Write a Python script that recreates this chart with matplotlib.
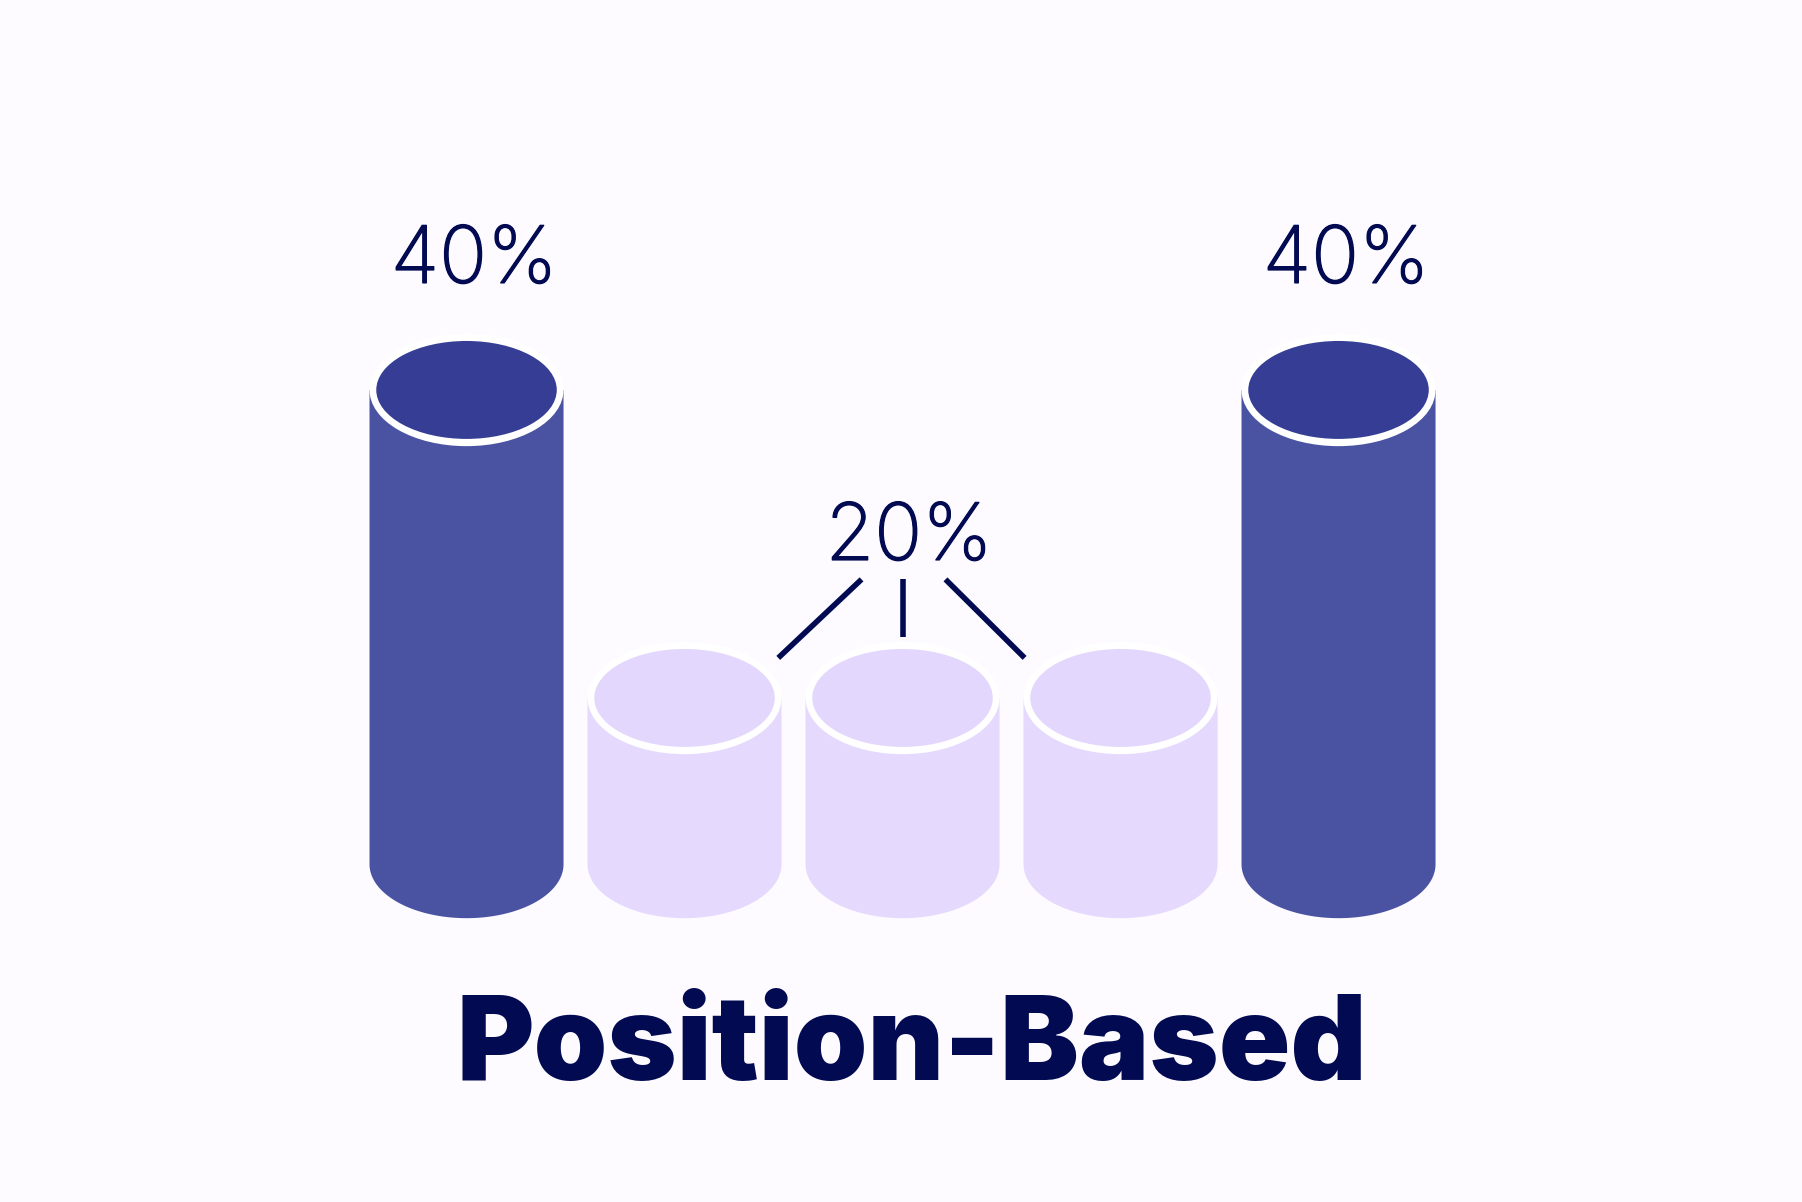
import numpy as np
import matplotlib
matplotlib.use("Agg")
import matplotlib.pyplot as plt
import matplotlib.patheffects as pe
from matplotlib.patches import Ellipse, Polygon

# data
slots = ["first", "mid1", "mid2", "mid3", "last"]
shares = [40, 20, 20, 20, 40]
share_labels = ["40%", "", "20%", "", "40%"]
title = "Position-Based"

bg = "#fdfbff"
ink = "#020a52"
top_col = {40: "#353e94", 20: "#e4d7fd"}
body_col = {40: "#4a53a2", 20: "#e5dafd"}

base = 9.2          # where every cylinder sits, in value units
w_out, h_out = 0.89, 7.0
w_in, h_in = 0.828, 6.36


def body_outline(xc, top, w, h):
    # straight sides from the top down to the base, closed by the lower half of an ellipse
    t = np.linspace(np.pi, 2 * np.pi, 120)
    arc = np.column_stack([xc + w / 2 * np.cos(t), base + h / 2 * np.sin(t)])
    return np.vstack([[xc - w / 2, top], arc, [xc + w / 2, top]])


fig = plt.figure(figsize=(18.02, 12.02), dpi=100, facecolor=bg)
ax = fig.add_axes([0, 0, 1, 1])
ax.set_facecolor(bg)
ax.set_xlim(-2.14, 6.126)
ax.set_ylim(-12.73, 65.32)
ax.axis('off')

for i, v in enumerate(shares):
    ax.add_patch(Polygon(body_outline(i, v, w_out, h_out), closed=True,
                         facecolor=body_col[v], edgecolor='none', zorder=1))
    # white ring and top
    ax.add_patch(Ellipse((i, v), w_out, h_out + 0.3, facecolor='white', edgecolor='none', zorder=2))
    ax.add_patch(Ellipse((i, v), w_in, h_in, facecolor=top_col[v], edgecolor='none', zorder=3))

lab_font = dict(family=['Inter', 'DejaVu Sans'], fontweight='light', color=ink, fontsize=57,
                path_effects=[pe.withStroke(linewidth=0.9, foreground=ink)])
for i, (v, lab) in enumerate(zip(shares, share_labels)):
    if not lab:
        continue
    if v == 40:
        ax.text(i + 0.035, v + 6.95, lab, ha='center', va='baseline', **lab_font)
    else:
        ax.text(i + 0.03, v + 8.96, lab, ha='center', va='baseline', **lab_font)
        # connectors from the label to the three small cylinders
        mids = [k for k, s in enumerate(shares) if s == v]
        y0, y1 = v + 7.7, v + 2.6
        ax.plot([i - 0.188, mids[0] + 0.43], [y0, y1], color=ink, lw=4, solid_capstyle='butt')
        ax.plot([i, i], [y0, v + 3.95], color=ink, lw=4, solid_capstyle='butt')
        ax.plot([i + 0.197, mids[-1] - 0.44], [y0, y1], color=ink, lw=4, solid_capstyle='butt')

fig.text(912 / 1802, 1 - 1080 / 1202, title, ha='center', va='baseline',
         family=['Inter', 'DejaVu Sans'], fontweight='black', fontsize=85, color=ink)

fig.savefig("out.png", dpi=100, facecolor=bg)
plt.close(fig)
